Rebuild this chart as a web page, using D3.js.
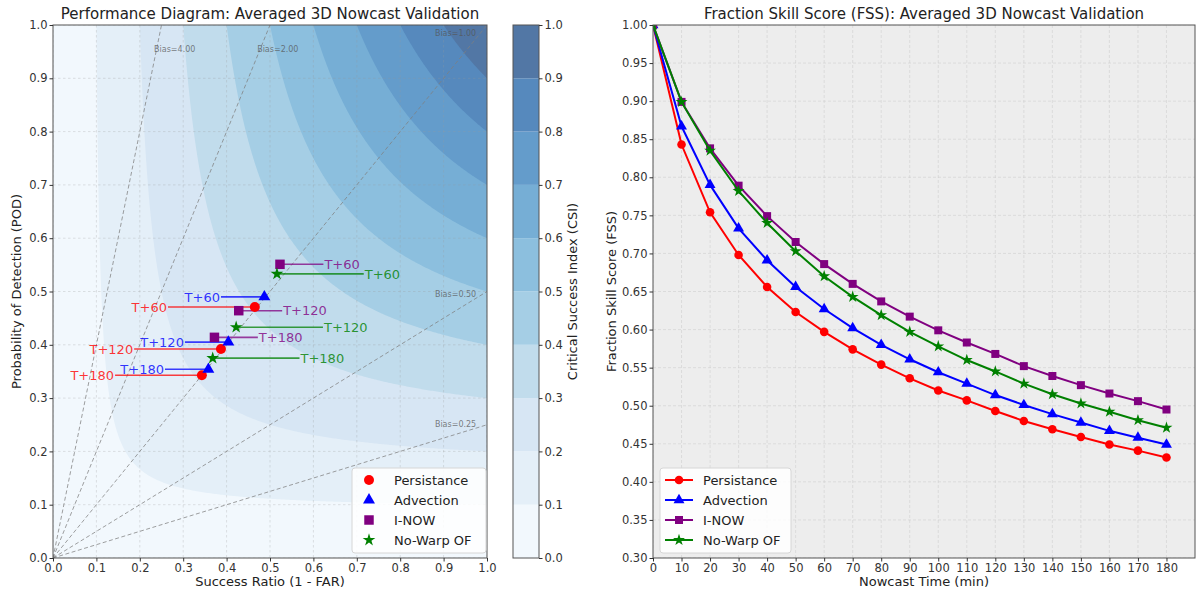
<!DOCTYPE html>
<html>
<head>
<meta charset="utf-8">
<script src="https://cdn.jsdelivr.net/npm/d3@7"></script>
<style>
  body { margin: 0; background: #ffffff; }
  text { font-family: "DejaVu Sans", sans-serif; }
</style>
</head>
<body>
<svg id="chart" width="1200" height="594"></svg>
<script>
// ---------------- data ----------------
const methods = ["Persistance", "Advection", "I-NOW", "No-Warp OF"];
const leadLabels = ["T+60", "T+120", "T+180"];

// Performance diagram: success ratio / probability of detection per lead time
const persistanceSR = [0.465, 0.387, 0.343];
const persistancePOD = [0.471, 0.392, 0.343];
const advectionSR = [0.487, 0.404, 0.358];
const advectionPOD = [0.490, 0.405, 0.354];
const inowSR = [0.523, 0.428, 0.372];
const inowPOD = [0.551, 0.464, 0.414];
const noWarpSR = [0.516, 0.422, 0.368];
const noWarpPOD = [0.533, 0.433, 0.375];

const biasValues = [0.25, 0.5, 1, 2, 4];
const csiLevels = [0, 0.1, 0.2, 0.3, 0.4, 0.5, 0.6, 0.7, 0.8, 0.9, 1.0];

// Fraction skill score vs nowcast time
const nowcastTimes = [0, 10, 20, 30, 40, 50, 60, 70, 80, 90, 100, 110, 120, 130, 140, 150, 160, 170, 180];
const fssPersistance = [1.0, 0.843, 0.754, 0.698, 0.656, 0.623, 0.597, 0.574, 0.554, 0.536, 0.520, 0.507, 0.493, 0.480, 0.469, 0.459, 0.449, 0.441, 0.432];
const fssAdvection = [1.0, 0.867, 0.790, 0.733, 0.691, 0.656, 0.627, 0.602, 0.580, 0.561, 0.544, 0.529, 0.514, 0.501, 0.489, 0.478, 0.467, 0.458, 0.449];
const fssInow = [1.0, 0.899, 0.838, 0.789, 0.749, 0.715, 0.686, 0.660, 0.637, 0.617, 0.599, 0.583, 0.568, 0.552, 0.539, 0.527, 0.516, 0.506, 0.495];
const fssNoWarp = [1.0, 0.899, 0.835, 0.782, 0.740, 0.703, 0.670, 0.643, 0.619, 0.597, 0.578, 0.560, 0.545, 0.529, 0.515, 0.503, 0.492, 0.481, 0.471];

const xTicksLeft = [0, 0.1, 0.2, 0.3, 0.4, 0.5, 0.6, 0.7, 0.8, 0.9, 1.0];
const yTicksRight = [0.30, 0.35, 0.40, 0.45, 0.50, 0.55, 0.60, 0.65, 0.70, 0.75, 0.80, 0.85, 0.90, 0.95, 1.00];
const xTicksRight = nowcastTimes;

// ---------------- styling ----------------
const colors = ["#ff0000", "#0000ff", "#800080", "#008000"];
const symbols = [d3.symbolCircle, d3.symbolTriangle, d3.symbolSquare, d3.symbolStar];
const scatterSizes = [78, 62, 90, 50];
const lineMarkerSizes = [58, 52, 64, 44];
const labelOffsets = [-0.2, -0.1, 0.1, 0.2];   // horizontal annotation offsets (success-ratio units)

const srSets = [persistanceSR, advectionSR, inowSR, noWarpSR];
const podSets = [persistancePOD, advectionPOD, inowPOD, noWarpPOD];
const fssSets = [fssPersistance, fssAdvection, fssInow, fssNoWarp];

const svg = d3.select("#chart");
const tickColor = "#333333";
const spineColor = "#555555";

// matplotlib-style "Blues" colormap blended with alpha over white
const bluesStops = ["#f7fbff", "#deebf7", "#c6dbef", "#9ecae1", "#6baed6", "#4292c6", "#2171b5", "#08519c", "#08306b"];
const blues = d3.scaleLinear().domain(d3.range(9).map(i => i / 8)).range(bluesStops).interpolate(d3.interpolateRgb);
const fillAlpha = 0.7;
function bandColor(v) {
  const c = d3.rgb(blues(v));
  const a = fillAlpha;
  return d3.rgb(c.r * a + 255 * (1 - a), c.g * a + 255 * (1 - a), c.b * a + 255 * (1 - a)).formatHex();
}
const bandColors = d3.range(csiLevels.length - 1).map(i => bandColor((i + 0.5) / (csiLevels.length - 1)));

// ================= Left panel: performance diagram =================
const L = { x0: 53, x1: 487, y0: 25, y1: 558 };
const xL = d3.scaleLinear().domain([0, 1]).range([L.x0, L.x1]);
const yL = d3.scaleLinear().domain([0, 1]).range([L.y1, L.y0]);

const defs = svg.append("defs");
defs.append("clipPath").attr("id", "clipL").append("rect")
  .attr("x", L.x0).attr("y", L.y0).attr("width", L.x1 - L.x0).attr("height", L.y1 - L.y0);

const gL = svg.append("g");
const plotL = gL.append("g").attr("clip-path", "url(#clipL)");

// CSI background: filled contours of CSI = 1 / (1/SR + 1/POD - 1)
plotL.append("rect").attr("x", L.x0).attr("y", L.y0)
  .attr("width", L.x1 - L.x0).attr("height", L.y1 - L.y0).attr("fill", bandColors[0]);

const n = 300, g0 = -0.02, g1 = 1.02, step = (g1 - g0) / (n - 1);
const grid = new Float64Array(n * n);
for (let j = 0; j < n; j++) {
  const pod = Math.min(1, Math.max(1e-4, g0 + j * step));
  for (let i = 0; i < n; i++) {
    const sr = Math.min(1, Math.max(1e-4, g0 + i * step));
    grid[j * n + i] = 1 / (1 / sr + 1 / pod - 1);
  }
}
const innerLevels = csiLevels.slice(1, -1);
const csiContours = d3.contours().size([n, n]).thresholds(innerLevels)(grid);
const gridProjection = d3.geoTransform({
  point(x, y) { this.stream.point(xL(g0 + (x - 0.5) * step), yL(g0 + (y - 0.5) * step)); }
});
const contourPath = d3.geoPath(gridProjection);
plotL.selectAll("path.csi").data(csiContours).join("path")
  .attr("class", "csi")
  .attr("d", contourPath)
  .attr("fill", (d, i) => bandColors[i + 1])
  .attr("stroke", "none");

// grid
plotL.append("g").selectAll("line.gx").data(xTicksLeft).join("line")
  .attr("x1", d => xL(d)).attr("x2", d => xL(d)).attr("y1", L.y0).attr("y2", L.y1)
  .attr("stroke", "#9a9a9a").attr("stroke-opacity", 0.35).attr("stroke-dasharray", "2.5,2.5").attr("stroke-width", 0.8);
plotL.append("g").selectAll("line.gy").data(xTicksLeft).join("line")
  .attr("y1", d => yL(d)).attr("y2", d => yL(d)).attr("x1", L.x0).attr("x2", L.x1)
  .attr("stroke", "#9a9a9a").attr("stroke-opacity", 0.35).attr("stroke-dasharray", "2.5,2.5").attr("stroke-width", 0.8);

// bias lines
plotL.append("g").selectAll("line.bias").data(biasValues).join("line")
  .attr("x1", xL(0)).attr("y1", yL(0))
  .attr("x2", b => xL(b <= 1 ? 1 : 1 / b)).attr("y2", b => yL(b <= 1 ? b : 1))
  .attr("stroke", "#7f7f7f").attr("stroke-opacity", 0.75).attr("stroke-width", 1)
  .attr("stroke-dasharray", "4,2.5");

gL.append("g").selectAll("text.bias").data(biasValues).join("text")
  .attr("x", b => b > 1 ? xL(0.95 / b) - 2 : xL(0.88))
  .attr("y", b => b > 1 ? yL(0.95) : yL(0.98 * b))
  .attr("font-size", 8).attr("fill", "#555").attr("fill-opacity", 0.75)
  .text(b => "Bias=" + b.toFixed(2));

// annotations (line from label to point) then points
methods.forEach((m, k) => {
  const gM = gL.append("g");
  srSets[k].forEach((sr, t) => {
    const pod = podSets[k][t];
    const tx = sr + labelOffsets[k];
    gM.append("line")
      .attr("x1", xL(tx)).attr("x2", xL(sr)).attr("y1", yL(pod)).attr("y2", yL(pod))
      .attr("stroke", colors[k]).attr("stroke-opacity", 0.75).attr("stroke-width", 1.6);
    gM.append("text")
      .attr("x", xL(tx) + (labelOffsets[k] < 0 ? -1 : 1))
      .attr("y", yL(pod)).attr("dy", "0.36em")
      .attr("text-anchor", labelOffsets[k] < 0 ? "end" : "start")
      .attr("font-size", 13).attr("fill", colors[k]).attr("fill-opacity", 0.8)
      .text(leadLabels[t]);
  });
});
methods.forEach((m, k) => {
  gL.append("g").selectAll("path").data(srSets[k].map((sr, t) => [sr, podSets[k][t]])).join("path")
    .attr("transform", d => `translate(${xL(d[0])},${yL(d[1])})`)
    .attr("d", d3.symbol(symbols[k], scatterSizes[k]))
    .attr("fill", colors[k]);
});

// spines + axes
gL.append("rect").attr("x", L.x0).attr("y", L.y0).attr("width", L.x1 - L.x0).attr("height", L.y1 - L.y0)
  .attr("fill", "none").attr("stroke", spineColor).attr("stroke-width", 1);

function styleAxis(g) {
  g.select(".domain").remove();
  g.selectAll(".tick line").attr("stroke", tickColor);
  g.selectAll(".tick text").attr("fill", tickColor).attr("font-size", 11.5).attr("font-family", "DejaVu Sans");
}
gL.append("g").attr("transform", `translate(0,${L.y1})`)
  .call(d3.axisBottom(xL).tickValues(xTicksLeft).tickFormat(d3.format(".1f")).tickSize(3.5).tickPadding(2))
  .call(styleAxis);
gL.append("g").attr("transform", `translate(${L.x0},0)`)
  .call(d3.axisLeft(yL).tickValues(xTicksLeft).tickFormat(d3.format(".1f")).tickSize(3.5).tickPadding(2))
  .call(styleAxis);

gL.append("text").attr("x", (L.x0 + L.x1) / 2).attr("y", 19).attr("text-anchor", "middle")
  .attr("font-size", 15).attr("fill", "#222").text("Performance Diagram: Averaged 3D Nowcast Validation");
gL.append("text").attr("x", (L.x0 + L.x1) / 2).attr("y", 586).attr("text-anchor", "middle")
  .attr("font-size", 13).attr("fill", "#222").text("Success Ratio (1 - FAR)");
gL.append("text").attr("transform", `translate(21,${(L.y0 + L.y1) / 2}) rotate(-90)`).attr("text-anchor", "middle")
  .attr("font-size", 13).attr("fill", "#222").text("Probability of Detection (POD)");

// legend
function drawLegend(parent, box, withLines) {
  const g = parent.append("g");
  g.append("rect").attr("x", box.x).attr("y", box.y).attr("width", box.w).attr("height", box.h)
    .attr("rx", 3).attr("fill", "#ffffff").attr("fill-opacity", 0.85).attr("stroke", "#d6d6d6");
  methods.forEach((m, k) => {
    const cy = box.y + 12 + k * 20;
    const mx = box.x + (withLines ? 19 : 17);
    if (withLines) {
      g.append("line").attr("x1", mx - 14).attr("x2", mx + 14).attr("y1", cy).attr("y2", cy)
        .attr("stroke", colors[k]).attr("stroke-width", 2);
    }
    g.append("path").attr("transform", `translate(${mx},${cy})`)
      .attr("d", d3.symbol(symbols[k], withLines ? lineMarkerSizes[k] : scatterSizes[k]))
      .attr("fill", colors[k]);
    g.append("text").attr("x", box.x + (withLines ? 43 : 42)).attr("y", cy).attr("dy", "0.36em")
      .attr("font-size", 13).attr("fill", "#222").text(m);
  });
}
drawLegend(gL, { x: 352, y: 468, w: 134, h: 85 }, false);

// colorbar
const C = { x0: 513, x1: 539 };
const yC = d3.scaleLinear().domain([0, 1]).range([L.y1, L.y0]);
const gC = svg.append("g");
gC.selectAll("rect.band").data(bandColors).join("rect")
  .attr("x", C.x0).attr("width", C.x1 - C.x0)
  .attr("y", (d, i) => yC(csiLevels[i + 1])).attr("height", (d, i) => yC(csiLevels[i]) - yC(csiLevels[i + 1]))
  .attr("fill", d => d);
gC.append("rect").attr("x", C.x0).attr("y", L.y0).attr("width", C.x1 - C.x0).attr("height", L.y1 - L.y0)
  .attr("fill", "none").attr("stroke", spineColor).attr("stroke-width", 1);
gC.append("g").attr("transform", `translate(${C.x1},0)`)
  .call(d3.axisRight(yC).tickValues(csiLevels).tickFormat(d3.format(".1f")).tickSize(3.5).tickPadding(2))
  .call(styleAxis);
gC.append("text").attr("transform", `translate(577,${(L.y0 + L.y1) / 2}) rotate(-90)`).attr("text-anchor", "middle")
  .attr("font-size", 13).attr("fill", "#222").text("Critical Success Index (CSI)");

// ================= Right panel: FSS =================
const R = { x0: 653, x1: 1195, y0: 25, y1: 558 };
const xR = d3.scaleLinear().domain([0, 190]).range([R.x0, R.x1]);
const yR = d3.scaleLinear().domain([0.3, 1.0]).range([R.y1, R.y0]);
defs.append("clipPath").attr("id", "clipR").append("rect")
  .attr("x", R.x0).attr("y", R.y0).attr("width", R.x1 - R.x0).attr("height", R.y1 - R.y0);

const gR = svg.append("g");
gR.append("rect").attr("x", R.x0).attr("y", R.y0).attr("width", R.x1 - R.x0).attr("height", R.y1 - R.y0)
  .attr("fill", "#ededed");
const plotR = gR.append("g").attr("clip-path", "url(#clipR)");
plotR.append("g").selectAll("line").data(xTicksRight).join("line")
  .attr("x1", d => xR(d)).attr("x2", d => xR(d)).attr("y1", R.y0).attr("y2", R.y1)
  .attr("stroke", "#c8c8c8").attr("stroke-opacity", 0.6).attr("stroke-dasharray", "3,2").attr("stroke-width", 0.8);
plotR.append("g").selectAll("line").data(yTicksRight).join("line")
  .attr("y1", d => yR(d)).attr("y2", d => yR(d)).attr("x1", R.x0).attr("x2", R.x1)
  .attr("stroke", "#c8c8c8").attr("stroke-opacity", 0.6).attr("stroke-dasharray", "3,2").attr("stroke-width", 0.8);

const fssLine = d3.line().x((d, i) => xR(nowcastTimes[i])).y(d => yR(d));
methods.forEach((m, k) => {
  plotR.append("path").attr("d", fssLine(fssSets[k])).attr("fill", "none")
    .attr("stroke", colors[k]).attr("stroke-width", 2);
  plotR.append("g").selectAll("path").data(fssSets[k]).join("path")
    .attr("transform", (d, i) => `translate(${xR(nowcastTimes[i])},${yR(d)})`)
    .attr("d", d3.symbol(symbols[k], lineMarkerSizes[k]))
    .attr("fill", colors[k]);
});

gR.append("rect").attr("x", R.x0).attr("y", R.y0).attr("width", R.x1 - R.x0).attr("height", R.y1 - R.y0)
  .attr("fill", "none").attr("stroke", spineColor).attr("stroke-width", 1);
gR.append("g").attr("transform", `translate(0,${R.y1})`)
  .call(d3.axisBottom(xR).tickValues(xTicksRight).tickFormat(d3.format("d")).tickSize(3.5).tickPadding(2))
  .call(styleAxis);
gR.append("g").attr("transform", `translate(${R.x0},0)`)
  .call(d3.axisLeft(yR).tickValues(yTicksRight).tickFormat(d3.format(".2f")).tickSize(3.5).tickPadding(2))
  .call(styleAxis);

gR.append("text").attr("x", (R.x0 + R.x1) / 2).attr("y", 19).attr("text-anchor", "middle")
  .attr("font-size", 15).attr("fill", "#222").text("Fraction Skill Score (FSS): Averaged 3D Nowcast Validation");
gR.append("text").attr("x", (R.x0 + R.x1) / 2).attr("y", 586).attr("text-anchor", "middle")
  .attr("font-size", 13).attr("fill", "#222").text("Nowcast Time (min)");
gR.append("text").attr("transform", `translate(616,${(R.y0 + R.y1) / 2}) rotate(-90)`).attr("text-anchor", "middle")
  .attr("font-size", 13).attr("fill", "#222").text("Fraction Skill Score (FSS)");

drawLegend(gR, { x: 660, y: 468, w: 131, h: 85 }, true);
</script>
</body>
</html>
